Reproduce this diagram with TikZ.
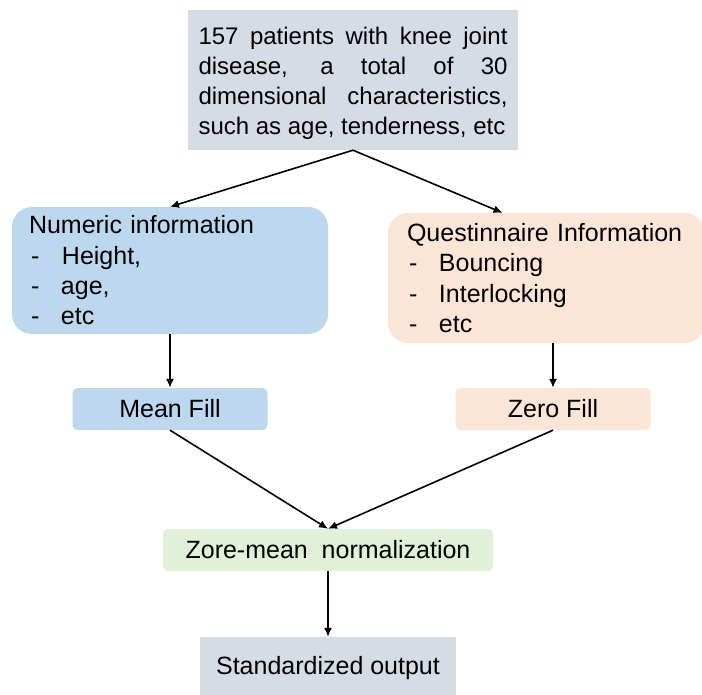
\documentclass[tikz,border=0pt]{standalone}
\usepackage{fontspec}
\setmainfont{Liberation Sans}
\usetikzlibrary{arrows.meta}
\definecolor{greybox}{HTML}{D6DCE5}
\definecolor{bluebox}{HTML}{BDD7EE}
\definecolor{orangebox}{HTML}{FBE5D6}
\definecolor{greenbox}{HTML}{E2F0D9}

\begin{document}
\begin{tikzpicture}[x=1pt, y=-1pt, box/.style={inner sep=0pt, font=\fontsize{25}{30.3}\selectfont}, listbox/.style={box, rounded corners=20pt, align=left}, fillbox/.style={box, rounded corners=5pt, minimum width=195pt, minimum height=42pt}]
\tikzset{edge/.style = {-{Latex[width=8pt, length=9pt]}, line width=1.6pt}}
\useasboundingbox (0,0) rectangle (702,694);
\node[box, fill=greybox, minimum width=330pt, minimum height=140pt, text width=309pt, align=justify, font=\fontsize{24}{30}\selectfont] (P) at (353,80) {\rule{0pt}{23.5pt}157 patients with knee joint\linebreak disease, a total of 30\linebreak dimensional characteristics,\linebreak such as age, tenderness, etc};
\node[listbox, fill=bluebox, minimum height=127pt, text width=282pt, inner xsep=17pt] (N) at (170,270.5) {Numeric information\\ \hspace{2pt}\makebox[31pt][l]{-}Height,\\ \hspace{2pt}\makebox[30pt][l]{-}age,\\ \hspace{2pt}\makebox[30pt][l]{-}etc};
\node[listbox, fill=orangebox, minimum height=130pt, text width=279pt, inner xsep=19pt] (Q) at (546.5,278) {Questinnaire Information\\ \hspace{2pt}\makebox[30pt][l]{-}Bouncing\\ \hspace{2pt}\makebox[30pt][l]{-}Interlocking\\ \hspace{2pt}\makebox[30pt][l]{-}etc};
\node[fillbox, fill=bluebox] (M) at (170,409) {Mean Fill};
\node[fillbox, fill=orangebox] (Z) at (553,409) {Zero Fill};
\node[fillbox, fill=greenbox, minimum width=330pt] (R) at (328,550) {Zore-mean\ \ normalization};
\node[box, fill=greybox, minimum width=256pt, minimum height=62pt] (S) at (328,668) {Standardized output};
\draw[edge] (P.south) -- (N.north);
\draw[edge] (P.south) -- (Q.124);
\draw[edge] (N.south) -- (M.north);
\draw[edge] (Q.south -| Z.north) -- (Z.north);
\draw[edge] (M.south) -- (R.north);
\draw[edge] (Z.south) -- (R.north);
\draw[edge] (R.south) -- (S.north);
\end{tikzpicture}
\end{document}
